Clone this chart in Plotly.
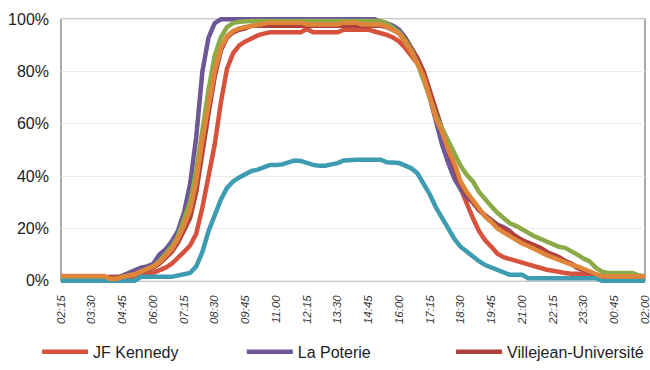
import plotly.graph_objects as go

# quarter-hour slots from 02:15 to 02:00 the next day
TIMES = [f"{(2 * 60 + 15 + 15 * k) // 60 % 24:02d}:{(15 + 15 * k) % 60:02d}" for k in range(96)]
TICKS = TIMES[::5]

jf_kennedy = [
    1.2, 1.2, 1.2, 1.2, 1.2, 1.2, 1.2, 1.2, 0.6, 0.6,
    1.0, 1.2, 1.5, 2.0, 2.5, 3.0, 3.8, 5.0, 6.5, 8.5,
    11, 13.5, 18, 28, 40, 52, 68, 81, 87, 90,
    91.5, 92.8, 93.8, 94.5, 95, 95, 95, 95, 95, 95,
    96.3, 95, 95, 95, 95, 95, 96, 96, 96, 96,
    96, 95.3, 94.7, 94, 93, 91.5, 89, 86, 83, 78,
    71, 63, 55, 47, 41, 35, 29, 24, 19, 15.5,
    13, 10.3, 9, 8.3, 7.3, 6.6, 6, 5.2, 4.7, 4.2,
    3.8, 3.2, 3.0, 2.7, 2.7, 2.7, 1.8, 1.8, 1.8, 1.8,
    1.8, 1.8, 1.8, 1.8, 1.8, 1.8,
]
la_poterie = [
    1, 1, 1, 1, 1, 1, 1, 1, 1, 1,
    2, 3, 4, 5, 5.5, 6.5, 10, 12, 15, 19,
    26, 37, 55, 80, 93, 98.5, 100, 100, 100, 100,
    100, 100, 100, 100, 100, 100, 100, 100, 100, 100,
    100, 100, 100, 100, 100, 100, 100, 100, 100, 100,
    100, 100, 99, 98.5, 97.5, 96, 93, 89, 85, 79,
    70, 61, 52, 45, 39, 35, 32, 30, 27, 25,
    23, 21.5, 20.5, 19, 16.5, 15.5, 14.5, 13.5, 12.5, 11,
    10, 9, 7.5, 6.5, 5, 4, 3, 2.3, 1.5, 1.5,
    1.5, 1.5, 1.5, 1.5, 1.5, 1.5,
]
villejean = [
    1.2, 1.2, 1.2, 1.2, 1.2, 1.2, 1.2, 1.2, 1.2, 1.2,
    1.5, 2, 2.5, 3.2, 4, 5, 6.5, 8.5, 11, 14.5,
    19, 24, 34, 50, 64, 78, 88, 93, 95, 96,
    96.5, 97.5, 97.5, 97.5, 97.5, 97.5, 97.5, 97.5, 97.5, 97.5,
    97.5, 97.5, 97.5, 97.5, 97.5, 97.5, 97.5, 97.5, 97.5, 97.5,
    97.5, 97.5, 97.5, 97, 96, 95, 92.5, 89, 85, 80,
    73, 65, 58, 50, 43, 37, 33, 30, 27, 25,
    23, 21, 20, 18.5, 16.5, 15.5, 14.5, 13.5, 12.5, 11,
    10, 9, 7.5, 6.5, 5, 4, 3, 2.3, 1.5, 1.5,
    1.5, 1.5, 1.5, 1.5, 1.5, 1.5,
]
serie_4 = [
    1.5, 1.5, 1.5, 1.5, 1.5, 1.5, 1.5, 1.5, 0.7, 0.7,
    1.5, 2, 2.5, 3.5, 4.5, 5.5, 7.5, 10, 13, 17,
    23, 30, 42, 58, 73, 86, 93, 97, 98.5, 99,
    99.3, 99.3, 99.3, 99.3, 99.3, 99.3, 99.3, 99.3, 99.3, 99.3,
    99.3, 99.3, 99.3, 99.3, 99.3, 99.3, 99.3, 99.3, 99.3, 99.3,
    99.3, 99.3, 99.3, 98.5, 97, 95, 92, 88, 83, 77,
    70, 63, 58, 53.5, 49, 44, 40.5, 38, 34, 31,
    28.5, 26, 24, 22, 21, 19.5, 18, 17, 16, 15,
    14, 13, 12.6, 11.5, 10, 8.5, 7.4, 5, 3.5, 3,
    3, 3, 3, 3, 2, 1.5,
]
serie_5 = [
    0, 0, 0, 0, 0, 0, 0, 0, 0, 0,
    0, 0, 0, 1.5, 1.5, 1.5, 1.5, 1.5, 1.5, 2,
    2.7, 3, 5.5, 11, 19, 25.5, 31, 35.5, 38, 39.5,
    41, 42, 42.5, 43.5, 44.3, 44.3, 44.5, 45.3, 46, 45.8,
    45, 44.3, 44, 44, 44.5, 45, 46, 46.3, 46.3, 46.3,
    46.3, 46.3, 46.3, 45.3, 45.3, 45, 44, 43, 41, 37,
    33, 28, 24, 20, 16, 13, 11, 9, 7.5, 6,
    5, 4, 3, 2.3, 2.3, 2.3, 1, 1, 1, 1,
    1, 1, 1, 1, 1, 1, 1, 1, 0, 0,
    0, 0, 0, 0, 0, 0,
]
serie_6 = [
    1.8, 1.8, 1.8, 1.8, 1.8, 1.8, 1.8, 1.8, 0.7, 0.7,
    1.5, 1.8, 2.5, 3.5, 4.5, 5.5, 7, 9.5, 12, 16,
    21, 27, 38, 54, 67, 80, 89, 93.5, 95.5, 96.5,
    97, 97.5, 97.8, 98.5, 98.7, 98.7, 98.7, 98.7, 98.7, 98.7,
    98, 98, 98, 98, 98, 98, 98.7, 98.7, 98.7, 98,
    98, 98, 98, 97.2, 96, 94.5, 91, 87.5, 83, 78,
    70, 62, 57, 50, 45, 38, 34, 31, 28, 24.5,
    22.5, 20, 18.5, 17, 15.3, 14.3, 13.3, 12.3, 11, 9.8,
    8.8, 7.8, 7, 6.2, 5.5, 4.5, 3.3, 2.3, 1.6, 1.6,
    1.6, 1.6, 1.6, 1.6, 1.6, 1.6,
]

# (name, values, colour, legend slot or None when it is not in the visible legend row)
series = [
    ("JF Kennedy", jf_kennedy, "#d6523c", "legend"),
    ("La Poterie", la_poterie, "#6e5796", "legend2"),
    ("Villejean-Université", villejean, "#b0403c", "legend3"),
    ("Série 4", serie_4, "#8cab48", None),
    ("Série 5", serie_5, "#3d9bb2", None),
    ("Série 6", serie_6, "#e0863a", None),
]

fig = go.Figure()
for name, values, color, slot in series:
    fig.add_trace(go.Scatter(
        x=TIMES,
        y=values,
        name=name,
        mode="lines",
        line=dict(color=color, width=4.5),
        showlegend=slot is not None,
        legend=slot or "legend",
        hovertemplate="%{x}: %{y:.0f}%<extra>" + name + "</extra>",
    ))

fig.add_shape(
    type="rect", xref="paper", yref="y", x0=0, x1=1, y0=0, y1=100,
    line=dict(color="#8f8f8f", width=1.5), layer="below",
)

legend_style = dict(
    orientation="h",
    xref="container", yref="container",
    xanchor="left", y=0.049, yanchor="middle",
    font=dict(size=16, color="#222222"),
    itemwidth=46,
    bgcolor="rgba(0,0,0,0)",
)

fig.update_layout(
    width=650,
    height=370,
    margin=dict(t=14, b=84, l=61, r=5),
    paper_bgcolor="white",
    plot_bgcolor="white",
    font=dict(family="Liberation Sans, Arial, sans-serif", color="#222222"),
    xaxis=dict(
        type="category",
        categoryorder="array",
        categoryarray=TIMES,
        range=[0, 95],
        tickvals=TICKS,
        tickangle=-90,
        tickfont=dict(size=11.5, style="italic", color="#333333"),
        showgrid=False,
        zeroline=False,
        showline=False,
        ticks="",
        ticklabelstandoff=6,
        automargin=False,
    ),
    yaxis=dict(
        range=[-2, 102],
        tickvals=[0, 20, 40, 60, 80, 100],
        ticktext=["0%", "20%", "40%", "60%", "80%", "100%"],
        tickfont=dict(size=16),
        showgrid=True,
        gridcolor="#ebebeb",
        gridwidth=1,
        zeroline=False,
        showline=False,
        ticks="",
        ticklabelstandoff=11,
        automargin=False,
    ),
    legend=dict(legend_style, x=0.057),
    legend2=dict(legend_style, x=0.372),
    legend3=dict(legend_style, x=0.694),
)

# the page's default body margin would shift the figure by 8px
fig.write_html(
    "out.html",
    config={"displayModeBar": False},
    post_script="document.body.style.margin = '0';",
)
